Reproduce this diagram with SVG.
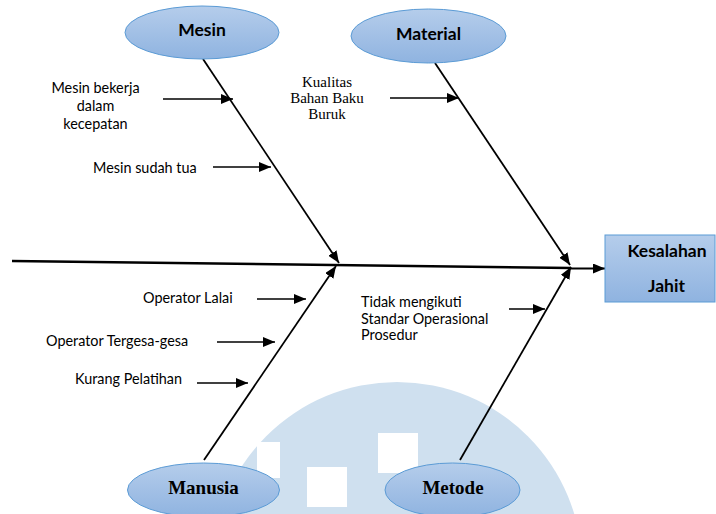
<svg xmlns="http://www.w3.org/2000/svg" width="716" height="514" viewBox="0 0 716 514">
<defs>
<linearGradient id="gb" x1="0" y1="0" x2="0" y2="1">
<stop offset="0" stop-color="#b5cdeb"/>
<stop offset="1" stop-color="#8fb3e0"/>
</linearGradient>
<marker id="ah" markerWidth="12" markerHeight="10" refX="12" refY="5" orient="auto" markerUnits="userSpaceOnUse">
<path d="M0,0 L12,5 L0,10 z" fill="#000"/>
</marker>
<style>
.node{fill:url(#gb);stroke:#5b9bd5;stroke-width:1}
.hd{font-family:Lato,"Liberation Sans",sans-serif;font-weight:bold;font-size:17.5px;fill:#000;text-anchor:middle}
.hs{font-family:"Liberation Serif",serif;font-weight:bold;font-size:19px;fill:#000;text-anchor:middle}
.lb{font-family:Lato,"Liberation Sans",sans-serif;font-size:14.4px;fill:#000}
.ls{font-family:"Liberation Serif",serif;font-size:15px;fill:#000;text-anchor:middle}
.bone{stroke:#000;stroke-width:1.8;fill:none}
.sm{stroke:#000;stroke-width:1.6;fill:none;marker-end:url(#ah)}
</style>
</defs>
<rect width="716" height="514" fill="#fff"/>
<g id="watermark">
<circle cx="397" cy="567" r="185" fill="#cfe0ef"/>
<rect x="257" y="442" width="23" height="36" fill="#fff"/>
<rect x="307" y="467" width="40" height="40" fill="#fff"/>
<rect x="378" y="433" width="40" height="40" fill="#fff"/>
</g>
<g id="connectors">
<line class="bone" x1="12" y1="261" x2="571" y2="268" style="stroke-width:2.5"/>
<line class="bone" x1="571" y1="268.5" x2="605" y2="268.5" style="stroke-width:2.2;marker-end:url(#ah)"/>
<line class="bone" x1="203" y1="59" x2="339" y2="263" style="marker-end:url(#ah)"/>
<line class="bone" x1="435" y1="63" x2="570" y2="265" style="marker-end:url(#ah)"/>
<line class="bone" x1="204" y1="460" x2="336" y2="266" style="marker-end:url(#ah)"/>
<line class="bone" x1="460" y1="460" x2="571" y2="267" style="marker-end:url(#ah)"/>
<line class="sm" x1="163" y1="99" x2="233" y2="99"/>
<line class="sm" x1="213" y1="167" x2="271" y2="167"/>
<line class="sm" x1="390" y1="98" x2="459" y2="98"/>
<line class="sm" x1="257" y1="299" x2="306" y2="299"/>
<line class="sm" x1="217" y1="342" x2="275" y2="342"/>
<line class="sm" x1="197" y1="383" x2="248" y2="383"/>
<line class="sm" x1="509" y1="309" x2="545" y2="309"/>
</g>
<g id="mesin">
<ellipse class="node" cx="202" cy="32.5" rx="77" ry="26.5"/>
<text class="hd" x="202" y="36">Mesin</text>
</g>
<g id="material">
<ellipse class="node" cx="428.5" cy="36" rx="77.5" ry="27"/>
<text class="hd" x="428.5" y="39.5">Material</text>
</g>
<g id="manusia">
<ellipse class="node" cx="203.5" cy="490" rx="76" ry="27"/>
<text class="hs" x="203.5" y="494">Manusia</text>
</g>
<g id="metode">
<ellipse class="node" cx="452.5" cy="490" rx="67.5" ry="27"/>
<text class="hs" x="453" y="494">Metode</text>
</g>
<g id="kesalahan-jahit">
<rect class="node" x="605" y="235" width="110" height="67"/>
<text class="hd" x="667" y="257">Kesalahan</text>
<text class="hd" x="666.5" y="292">Jahit</text>
</g>
<g id="labels">
<text class="lb" text-anchor="middle" x="95.5" y="93">Mesin bekerja</text>
<text class="lb" text-anchor="middle" x="95.5" y="111">dalam</text>
<text class="lb" text-anchor="middle" x="95.5" y="129">kecepatan</text>
<text class="lb" x="93" y="173">Mesin sudah tua</text>
<text class="ls" x="327" y="87">Kualitas</text>
<text class="ls" x="327" y="103">Bahan Baku</text>
<text class="ls" x="327" y="119">Buruk</text>
<text class="lb" x="143" y="303">Operator Lalai</text>
<text class="lb" x="46" y="346">Operator Tergesa-gesa</text>
<text class="lb" x="75" y="384">Kurang Pelatihan</text>
<text class="lb" x="361" y="307">Tidak mengikuti</text>
<text class="lb" x="361" y="324">Standar Operasional</text>
<text class="lb" x="361" y="340">Prosedur</text>
</g>
</svg>
